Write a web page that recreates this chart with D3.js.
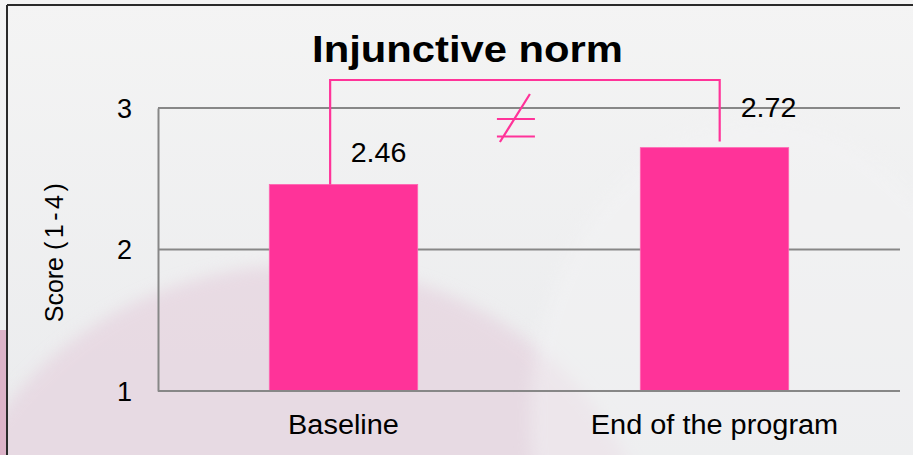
<!DOCTYPE html>
<html>
<head>
<meta charset="utf-8">
<script src="https://cdn.jsdelivr.net/npm/d3@7/dist/d3.min.js"></script>
<style>
  html, body { margin: 0; padding: 0; background: #f1f1f2; }
  svg { display: block; font-family: "Liberation Sans", Arial, sans-serif; }
</style>
</head>
<body>
<svg id="chart" width="913" height="455"></svg>
<script>
// Chart data
const title = "Injunctive norm";
const categories = ["Baseline", "End of the program"];
const scores = [2.46, 2.72];
const yTicks = [1, 2, 3];
const yLabel = "Score (1-4)";

const W = 913, H = 455;
const svg = d3.select("#chart");
const defs = svg.append("defs");

// ---- slide background ----
const bgGrad = defs.append("linearGradient").attr("id", "bg")
  .attr("x1", 0).attr("y1", 0).attr("x2", 0).attr("y2", 1);
bgGrad.append("stop").attr("offset", "0%").attr("stop-color", "#f4f4f4");
bgGrad.append("stop").attr("offset", "100%").attr("stop-color", "#eaebed");
svg.append("rect").attr("width", W).attr("height", H).attr("fill", "url(#bg)");

const blur = defs.append("filter").attr("id", "soft")
  .attr("x", "-20%").attr("y", "-20%").attr("width", "140%").attr("height", "140%");
blur.append("feGaussianBlur").attr("stdDeviation", 8);

// large pink disc in the lower left
svg.append("ellipse")
  .attr("cx", 300).attr("cy", 600).attr("rx", 360).attr("ry", 335)
  .attr("fill", "#e6d3df").attr("opacity", 0.7).attr("filter", "url(#soft)");
// pale disc towards the right
svg.append("ellipse")
  .attr("cx", 760).attr("cy", 420).attr("rx", 230).attr("ry", 300)
  .attr("fill", "#f3f3f4").attr("opacity", 0.5).attr("filter", "url(#soft)");
// deeper pink strip at the far left edge
svg.append("rect").attr("x", 0).attr("y", 330).attr("width", 7).attr("height", H - 330)
  .attr("fill", "#dcb3c8");

// frame lines
svg.append("line").attr("x1", 7).attr("x2", W).attr("y1", 5).attr("y2", 5)
  .attr("stroke", "#2a2a2a").attr("stroke-width", 2);
svg.append("line").attr("x1", 7).attr("x2", 7).attr("y1", 5).attr("y2", H)
  .attr("stroke", "#2a2a2a").attr("stroke-width", 2);

// ---- scales ----
const x = d3.scaleBand().domain(categories).range([158, 900])
  .paddingInner(0.6).paddingOuter(0.3);
const y = d3.scaleLinear().domain([1, 3]).range([391, 108]);

const pink = "#ff3399";
const gridColor = "#878787";

// horizontal gridlines
svg.append("g").selectAll("line").data(yTicks.filter(t => t > 1)).join("line")
  .attr("x1", 158).attr("x2", 900)
  .attr("y1", d => y(d)).attr("y2", d => y(d))
  .attr("stroke", gridColor).attr("stroke-width", 2);

// bars
svg.append("g").selectAll("rect").data(scores).join("rect")
  .attr("x", (d, i) => x(categories[i]))
  .attr("width", x.bandwidth())
  .attr("y", d => y(d))
  .attr("height", d => y(1) - y(d))
  .attr("fill", pink)
  .attr("stroke", "#ff66b3").attr("stroke-width", 0.8);

// axes (no tick marks)
const yAxis = svg.append("g").attr("transform", "translate(158,0)")
  .call(d3.axisLeft(y).tickValues(yTicks).tickFormat(d3.format("d")).tickSize(0).tickPadding(26));
yAxis.select(".domain").attr("stroke", gridColor).attr("stroke-width", 2);
yAxis.selectAll("text").attr("font-size", 27).attr("fill", "#000")
  .attr("font-family", "'Liberation Sans', Arial, sans-serif").attr("dy", "0.34em");

const xAxis = svg.append("g").attr("transform", "translate(0,391)")
  .call(d3.axisBottom(x).tickSize(0).tickPadding(0));
xAxis.select(".domain").attr("stroke", gridColor).attr("stroke-width", 2)
  .attr("d", "M158,0H900");
xAxis.selectAll("text").attr("font-size", 27).attr("fill", "#000")
  .attr("font-family", "'Liberation Sans', Arial, sans-serif")
  .attr("dy", null).attr("y", 43);

// widen text slightly, in the manner of the slide's font rendering
function widen(sel, k) {
  sel.each(function () {
    const len = this.getComputedTextLength();
    d3.select(this).attr("textLength", len * k).attr("lengthAdjust", "spacingAndGlyphs");
  });
}
widen(xAxis.selectAll("text"), 1.07);

// value labels, nudged up and to the right of each bar
const labelNudge = [[35, -22], [54, -31]];
svg.append("g").selectAll("text").data(scores).join("text")
  .attr("x", (d, i) => x(categories[i]) + x.bandwidth() / 2 + labelNudge[i][0])
  .attr("y", (d, i) => y(d) + labelNudge[i][1])
  .attr("text-anchor", "middle")
  .attr("font-size", 27).attr("fill", "#000")
  .text(d => d3.format(".2f")(d))
  .call(widen, 1.06);

// y-axis title
const [yWord, yRange] = yLabel.split(" ");
const yl = svg.append("text")
  .attr("transform", "translate(63,251) rotate(-90)")
  .attr("text-anchor", "middle")
  .attr("font-size", 25).attr("fill", "#000");
yl.append("tspan").text(yWord + " ");
yl.append("tspan").attr("letter-spacing", 3.5).text(yRange);

// chart title
svg.append("text")
  .attr("x", 467.5).attr("y", 62)
  .attr("text-anchor", "middle")
  .attr("font-size", 36).attr("font-weight", "bold").attr("fill", "#000")
  .text(title)
  .call(widen, 1.16);

// significance bracket between the two bars
const bx0 = x(categories[0]) + x.bandwidth() * 0.41;
const bx1 = x(categories[1]) + x.bandwidth() * 0.535;
const bTop = 80;
svg.append("path")
  .attr("d", `M${bx0},${y(scores[0])}V${bTop}H${bx1}V${y(scores[1]) - 6}`)
  .attr("fill", "none").attr("stroke", pink).attr("stroke-width", 2.2);

// "not equal" mark
const nx = (bx0 + bx1) / 2 - 9, ny = 128;
svg.append("path")
  .attr("d", `M${nx - 19},${ny - 9}H${nx + 19}M${nx - 19},${ny + 8.5}H${nx + 19}` +
             `M${nx + 14},${ny - 34}L${nx - 16},${ny + 14}`)
  .attr("fill", "none").attr("stroke", pink).attr("stroke-width", 2.2);
</script>
</body>
</html>
